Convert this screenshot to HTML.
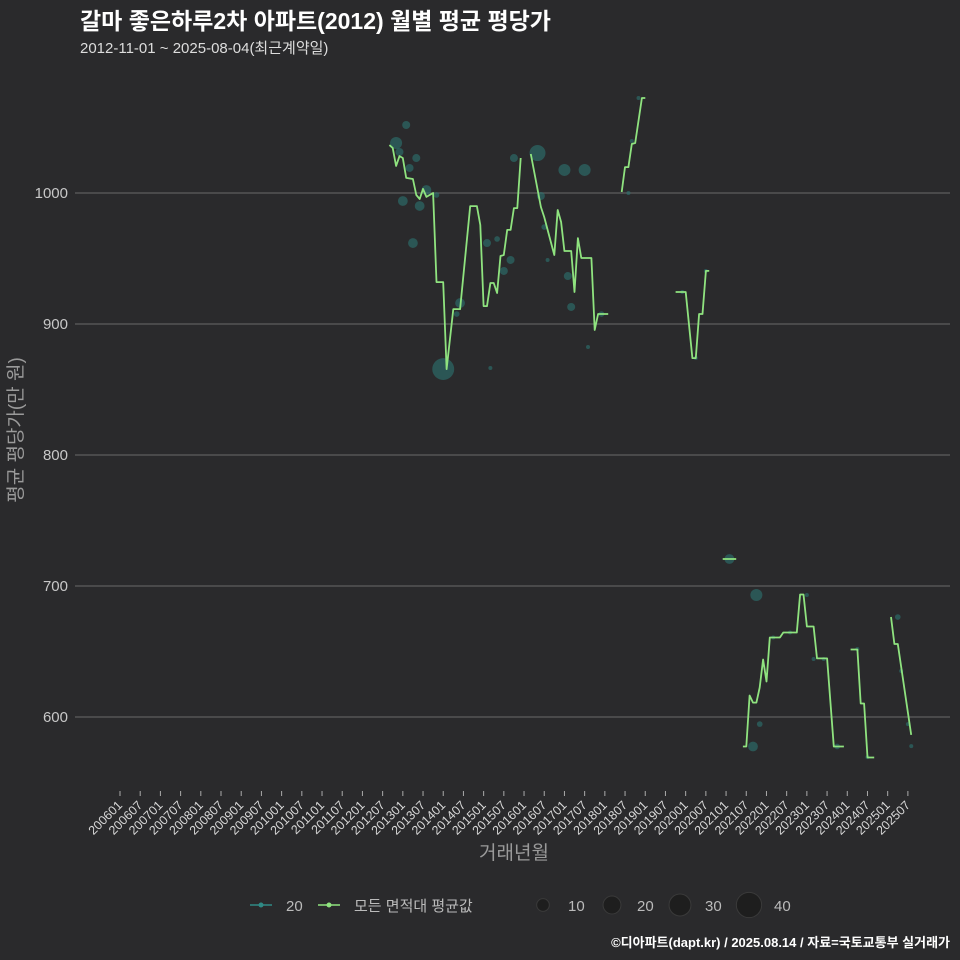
<!DOCTYPE html>
<html><head><meta charset="utf-8"><style>
body{margin:0;background:#2a2a2c;}
svg{display:block;font-family:"Liberation Sans","Noto Sans CJK KR",sans-serif;}
</style></head><body>
<svg id="c" width="960" height="960" viewBox="0 0 960 960">
<rect width="960" height="960" fill="#2a2a2c"/>
<text x="80" y="29" fill="#ffffff" font-size="23" font-weight="bold">갈마 좋은하루2차 아파트(2012) 월별 평균 평당가</text>
<text x="80" y="53" fill="#dddddd" font-size="15">2012-11-01 ~ 2025-08-04(최근계약일)</text>
<g id="grid"></g>
<g id="bub"></g>
<g id="lines"></g>
<g id="xt"></g>
<text x="514" y="859" fill="#9a9a9a" font-size="19" text-anchor="middle">거래년월</text>
<text transform="translate(22,430) rotate(-90)" fill="#9a9a9a" font-size="19" text-anchor="middle">평균 평당가(만 원)</text>
<g>
<g>
<line x1="250" y1="905" x2="272" y2="905" stroke="#2f8a85" stroke-width="1.5"/>
<circle cx="261" cy="905" r="2.5" fill="#2f8a85"/>
<text x="286" y="911" fill="#bbbbbb" font-size="15">20</text></g>
<g>
<line x1="318" y1="905" x2="340" y2="905" stroke="#8fe37f" stroke-width="1.5"/>
<circle cx="329" cy="905" r="2.5" fill="#8fe37f"/>
<text x="354" y="911" fill="#bbbbbb" font-size="15">모든 면적대 평균값</text></g>
<g id="sizeleg"></g>
</g>
<text x="950" y="947" fill="#ffffff" font-size="13" font-weight="bold" text-anchor="end">©디아파트(dapt.kr) / 2025.08.14 / 자료=국토교통부 실거래가</text>
</svg>
<script>
const yTicks=[600,700,800,900,1000];
const lineMonths=[80,81,82,83,84,85,87,88,89,90,91,93,94,96,97,99,101,104,106,107,108,109,110,111,112,113,114,115,116,117,118,119,
null,122,125,126,129,130,131,132,134,135,136,137,140,141,142,145,
null,149,150,151,152,153,155,156,
null,165,168,170,171,172,173,174,175,
null,179,183,
null,185,186,187,188,189,190,191,192,193,196,197,201,202,203,204,206,207,210,212,215,
null,217,219,220,221,222,224,
null,229,230,231,235];
const lineValues=[1036.6,1034.4,1020.6,1028.2,1026.7,1011.5,1010.7,998.5,995.4,1003.1,997,1000,932,932,865.6,911.4,911.4,990,990,975.6,913.7,913.7,931.3,931.3,923.7,951.9,952.7,971.8,971.8,988.5,988.5,1026.7,
null,1029.8,989.3,981.7,952.7,987,977.9,955.7,955.7,924.4,965.6,950.4,950.4,895.4,907.6,907.6,
null,1000.8,1019.8,1019.8,1037.4,1038.2,1072.5,1072.5,
null,924.4,924.4,874,874,907.6,907.6,940.5,940.5,
null,720.6,720.6,
null,577.5,577.5,616.4,611,611,622.5,643.9,627.1,660.7,660.7,664.5,664.5,693.5,693.5,669.1,669.1,644.7,644.7,577.5,577.5,
null,651.5,651.5,610.3,610.3,569.1,569.1,
null,676.3,655.7,655.7,586.3];
const bubMonths=[85,82,83,88,86,84,91,89,94,87,96,101,100,109,112,116,114,110,117,124,125,126,127,132,138,133,134,139,143,151,152,154,167,171,174,181,189,190,188,194,199,204,206,209,213,219,222,231,232,234,235];
const bubValues=[1051.9,1038.2,1031.3,1026.7,1019.1,993.9,1002.3,990.1,998.5,961.8,865.6,916,907.6,961.8,964.9,948.9,940.5,866.4,1026.7,1030.5,997.7,974,948.9,1017.6,1017.6,936.6,913,882.4,907.6,1000,1039.7,1072.5,924.4,874,940.5,720.6,693.1,594.6,577.5,660.7,664.5,693.1,644.3,644.3,577.5,651.9,569.4,676.3,635.1,594.6,577.8];
const bubCounts=[4,9,4,4,4,6,6,6,2,6,30,6,2,4,2,4,4,1,4,16,4,2,1,9,9,4,4,1,2,1,1,1,1,1,1,6,9,2,6,1,1,1,1,1,2,1,1,2,1,1,1];
const sizeLegend=[10,20,30,40];
const NS="http://www.w3.org/2000/svg";
const X=m=>120+m*3.367;
const Y=v=>193+(1000-v)*1.31;
const R=c=>2*Math.sqrt(c);
function mk(t,a,p){const e=document.createElementNS(NS,t);for(const k in a)e.setAttribute(k,a[k]);p.appendChild(e);return e;}
const grid=document.getElementById('grid');
yTicks.forEach(v=>{
 const l=mk('line',{x1:75,x2:950,y1:Y(v),y2:Y(v),stroke:'#5e5e5e','stroke-width':1.3},grid);
 
 
 const t=mk('text',{x:68,y:Y(v)+5,fill:'#c8c8c8','font-size':15,'text-anchor':'end'},grid);
 t.textContent=v;
 
 
});
const xt=document.getElementById('xt');
for(let i=0;i<40;i++){
 const m=i*6,yr=2006+Math.floor(m/12),mo=(m%12)+1;
 const lab=yr+(mo<10?'0':'')+mo;
 const x=X(m);
 const tk=mk('line',{x1:x,x2:x,y1:791,y2:796,stroke:'#aaaaaa','stroke-width':1},xt);
 
 
 const t=mk('text',{transform:`translate(${x+3},806) rotate(-45)`,fill:'#d8d8d8','font-size':12.5,'text-anchor':'end'},xt);
 t.textContent=lab;
 
 
}
const bub=document.getElementById('bub');
bubMonths.forEach((m,i)=>{
 const c=mk('circle',{cx:X(m),cy:Y(bubValues[i]),r:R(bubCounts[i]),fill:'#2d7571','fill-opacity':0.6},bub);
 
 
});
const lines=document.getElementById('lines');
let d='',pen=false;
lineMonths.forEach((m,i)=>{
 if(m===null){pen=false;return;}
 d+=(pen?'L':'M')+X(m).toFixed(1)+','+Y(lineValues[i]).toFixed(1);pen=true;
});
const p=mk('path',{d:d,fill:'none',stroke:'#8fe37f','stroke-width':1.8,'stroke-linejoin':'round'},lines);


const sl=document.getElementById('sizeleg');
const sx=[543,612,680,749];
sizeLegend.forEach((s,i)=>{
 const c=mk('circle',{cx:sx[i],cy:905,r:R(s),fill:'#1e1e1e',stroke:'#3a3a3a'},sl);
 
 
 const t=mk('text',{x:sx[i]+25,y:911,fill:'#bbbbbb','font-size':15},sl);
 t.textContent=s;
 
 
});
</script>
</body></html>
